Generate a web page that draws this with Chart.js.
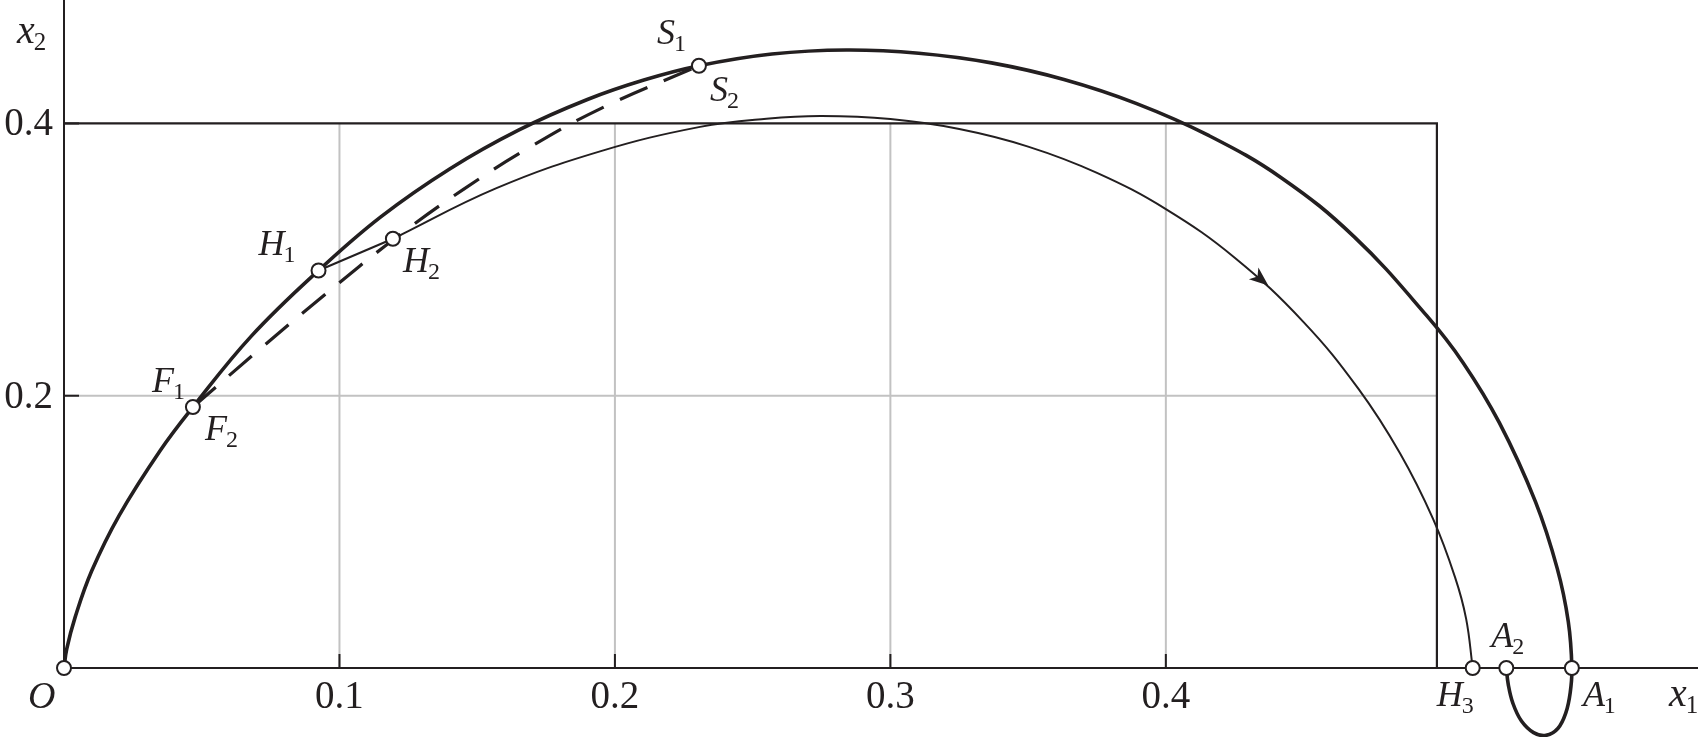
<!DOCTYPE html>
<html>
<head>
<meta charset="utf-8">
<script src="https://cdn.jsdelivr.net/npm/chart.js@4.4.1/dist/chart.umd.min.js"></script>
<style>
html,body{margin:0;padding:0;background:#fff;}
#wrap{width:1703px;height:737px;position:relative;}
canvas{display:block;}
</style>
</head>
<body>
<div id="wrap"><canvas id="c" width="1703" height="737"></canvas></div>
<script>
// ---------- data ----------
const xTicks = [0.1, 0.2, 0.3, 0.4];
const xTickLabels = ['0.1', '0.2', '0.3', '0.4'];
const yTicks = [0.2, 0.4];
const yTickLabels = ['0.2', '0.4'];
const boxRight = 0.4984;   // state constraint region x1 limit
const boxTop = 0.4;        // state constraint region x2 limit

// thick solid trajectory O - F1 - H1 - S1 - A1 - A2
const outerX = [0, 0.001, 0.004, 0.01, 0.02, 0.035, 0.0468, 0.068, 0.0924, 0.115, 0.14, 0.165, 0.19, 0.2105, 0.2305, 0.257, 0.284,
                0.3103, 0.3367, 0.363, 0.3894, 0.4157, 0.442, 0.4684, 0.4947, 0.5079, 0.5211, 0.5342, 0.5421, 0.5461, 0.5474,
                0.5468, 0.5452, 0.5423, 0.538, 0.5335, 0.5291, 0.526, 0.5243, 0.5236];
const outerY = [0, 0.014, 0.037, 0.071, 0.112, 0.160, 0.1917, 0.2438, 0.292, 0.3314, 0.3666, 0.3951, 0.4176, 0.4319, 0.4424, 0.451, 0.454,
                0.4516, 0.4445, 0.4323, 0.4146, 0.3910, 0.3600, 0.3167, 0.2588, 0.2243, 0.180, 0.122, 0.073, 0.034, 0,
                -0.018, -0.033, -0.0445, -0.0495, -0.0475, -0.039, -0.026, -0.012, 0];

// dashed trajectory F2 - S2
const dashX = [0.0468, 0.07, 0.095, 0.12, 0.145, 0.17, 0.195, 0.2305];
const dashY = [0.1917, 0.2323, 0.2748, 0.3153, 0.3516, 0.3836, 0.4111, 0.4424];

// straight jump H1 - H2
const jumpX = [0.0924, 0.1194];
const jumpY = [0.292, 0.3153];

// thin trajectory H2 - H3
const thinX = [0.1194, 0.157, 0.1946, 0.2309, 0.255, 0.275, 0.30, 0.325, 0.35, 0.375, 0.40, 0.425, 0.45, 0.47, 0.485, 0.497, 0.505, 0.509, 0.5114];
const thinY = [0.3153, 0.3525, 0.3795, 0.3975, 0.4035, 0.4055, 0.4032, 0.3959, 0.3830, 0.3637, 0.3371, 0.3014, 0.2541, 0.2048, 0.1577, 0.1095, 0.0666, 0.0363, 0];

// arrow tip on the thin trajectory
const arrowX = [0.4372];
const arrowY = [0.281];

// marked points
const markerNames = ['O', 'F', 'H1', 'H2', 'S', 'H3', 'A2', 'A1'];
const markerX = [0, 0.0468, 0.0924, 0.1194, 0.2305, 0.5114, 0.5236, 0.5474];
const markerY = [0, 0.1917, 0.292, 0.3153, 0.4424, 0, 0, 0];

// point labels: main letter, subscript, index of marker
const labelMain = ['O', 'F', 'F', 'H', 'H', 'S', 'S', 'H', 'A', 'A'];
const labelSub  = ['',  '1', '2', '1', '2', '1', '2', '3', '2', '1'];
const labelAt   = [0, 1, 1, 2, 3, 4, 4, 5, 6, 7];

// ---------- styles ----------
const INK = '#231f20';
const GRID = '#c2c2c2';
const SERIF = '"Liberation Serif", "Times New Roman", serif';
const labelOffsets = [[-36, 40], [-41, -15], [12, 33], [-60, -15], [10, 33], [-42, -22], [11, 35], [-36, 38], [-15, -21], [11, 38]];

const pts = (xs, ys) => xs.map((v, i) => ({x: v, y: ys[i]}));

function drawSubLabel(ctx, main, sub, x, y, size, subSize) {
  ctx.font = 'italic ' + size + 'px ' + SERIF;
  ctx.textAlign = 'left';
  ctx.textBaseline = 'alphabetic';
  ctx.fillText(main, x, y);
  const w = ctx.measureText(main).width;
  if (sub) {
    ctx.font = subSize + 'px ' + SERIF;
    ctx.fillText(sub, x + w - 1, y + 7);
  }
}

const framePlugin = {
  id: 'frame',
  beforeDatasetsDraw(chart) {
    const {ctx, chartArea, scales: {x, y}} = chart;
    const X = v => x.getPixelForValue(v), Y = v => y.getPixelForValue(v);
    ctx.save();
    ctx.lineCap = 'butt';
    // grid lines inside the region
    ctx.strokeStyle = GRID;
    ctx.lineWidth = 2;
    xTicks.forEach(t => {
      ctx.beginPath(); ctx.moveTo(X(t), Y(0)); ctx.lineTo(X(t), Y(boxTop)); ctx.stroke();
    });
    yTicks.forEach(t => {
      if (t >= boxTop) return;
      ctx.beginPath(); ctx.moveTo(X(0), Y(t)); ctx.lineTo(X(boxRight), Y(t)); ctx.stroke();
    });
    // tick marks
    ctx.strokeStyle = INK;
    ctx.lineWidth = 2;
    xTicks.forEach(t => {
      ctx.beginPath(); ctx.moveTo(X(t), Y(0)); ctx.lineTo(X(t), Y(0) - 14); ctx.stroke();
    });
    yTicks.forEach(t => {
      ctx.beginPath(); ctx.moveTo(X(0), Y(t)); ctx.lineTo(X(0) + 15, Y(t)); ctx.stroke();
    });
    // region box
    ctx.lineWidth = 2.2;
    ctx.beginPath();
    ctx.moveTo(X(0), Y(boxTop)); ctx.lineTo(X(boxRight), Y(boxTop)); ctx.lineTo(X(boxRight), Y(0));
    ctx.stroke();
    // axes
    ctx.lineWidth = 2;
    ctx.beginPath();
    ctx.moveTo(X(0), chartArea.top); ctx.lineTo(X(0), Y(0)); ctx.lineTo(chartArea.right - 5, Y(0));
    ctx.stroke();
    ctx.restore();
  },
  afterDatasetsDraw(chart) {
    const {ctx, scales: {x, y}} = chart;
    const X = v => x.getPixelForValue(v), Y = v => y.getPixelForValue(v);
    ctx.save();
    ctx.fillStyle = INK;
    // arrow head on thin curve
    const i0 = 10, i1 = 12;
    const dx = X(thinX[i1]) - X(thinX[i0]), dy = Y(thinY[i1]) - Y(thinY[i0]);
    const ang = Math.atan2(dy, dx);
    const tx = X(arrowX[0]), ty = Y(arrowY[0]);
    ctx.translate(tx, ty); ctx.rotate(ang);
    ctx.beginPath();
    ctx.moveTo(0, 0); ctx.lineTo(-19, -7.5); ctx.lineTo(-14, 0); ctx.lineTo(-19, 7.5); ctx.closePath();
    ctx.fill();
    ctx.restore();

    ctx.save();
    ctx.fillStyle = INK;
    // tick labels
    ctx.font = '39px ' + SERIF;
    ctx.textAlign = 'center';
    ctx.textBaseline = 'alphabetic';
    xTicks.forEach((t, i) => ctx.fillText(xTickLabels[i], X(t), Y(0) + 40));
    ctx.textAlign = 'right';
    yTicks.forEach((t, i) => ctx.fillText(yTickLabels[i], X(0) - 11, Y(t) + 12));
    // axis titles
    drawSubLabel(ctx, 'x', '2', X(0) - 47, 43, 40, 25);
    drawSubLabel(ctx, 'x', '1', chart.chartArea.right - 34, Y(0) + 38, 40, 25);
    // point labels
    labelMain.forEach((m, i) => {
      const k = labelAt[i];
      const px = X(markerX[k]) + labelOffsets[i][0];
      const py = Y(markerY[k]) + labelOffsets[i][1];
      const size = m === 'O' ? 38 : 36;
      drawSubLabel(ctx, m, labelSub[i], px, py, size, 24);
    });
    ctx.restore();
  }
};

const curveBase = {showLine: true, pointRadius: 0, pointHoverRadius: 0, borderColor: INK, fill: false, clip: false};

new Chart(document.getElementById('c'), {
  type: 'scatter',
  data: {
    datasets: [
      {label: 'points', data: pts(markerX, markerY), showLine: false, pointRadius: 7, pointHoverRadius: 7,
       pointBackgroundColor: '#ffffff', pointBorderColor: INK, pointBorderWidth: 2, order: 0, clip: false},
      Object.assign({label: 'outer', data: pts(outerX, outerY), borderWidth: 3.6, tension: 0.4, order: 1}, curveBase),
      Object.assign({label: 'dashed', data: pts(dashX, dashY), borderWidth: 3.2, borderDash: [30, 18], tension: 0.4, order: 2}, curveBase),
      Object.assign({label: 'jump', data: pts(jumpX, jumpY), borderWidth: 2, tension: 0, order: 3}, curveBase),
      Object.assign({label: 'thin', data: pts(thinX, thinY), borderWidth: 2, tension: 0.4, order: 4}, curveBase)
    ]
  },
  options: {
    responsive: false,
    devicePixelRatio: 1,
    animation: false,
    events: [],
    layout: {autoPadding: false, padding: {left: 64, right: 0, top: 0, bottom: 0}},
    scales: {
      x: {type: 'linear', min: 0, max: 0.595, display: false},
      y: {type: 'linear', min: -0.0507, max: 0.4907, display: false}
    },
    plugins: {legend: {display: false}, tooltip: {enabled: false}}
  },
  plugins: [framePlugin]
});
</script>
</body>
</html>
